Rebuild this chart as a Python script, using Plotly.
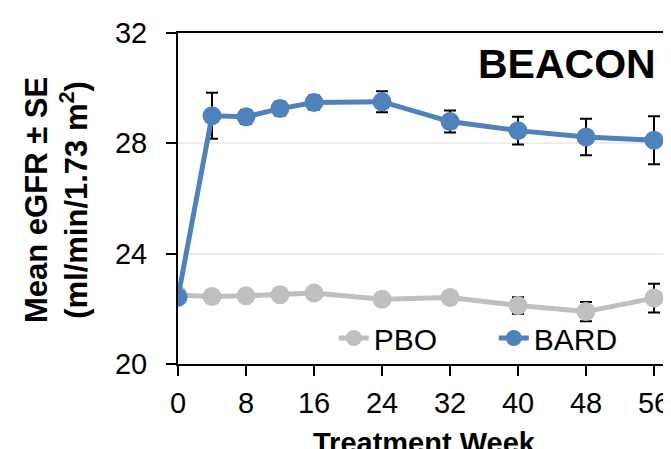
import plotly.graph_objects as go

weeks = [0, 4, 8, 12, 16, 24, 32, 40, 48, 56]
x_ticks = [0, 8, 16, 24, 32, 40, 48, 56]
y_ticks = [20, 24, 28, 32]

pbo_mean = [22.50, 22.45, 22.47, 22.51, 22.57, 22.35, 22.41, 22.12, 21.90, 22.39]
pbo_se = [0.2, 0.2, 0.2, 0.2, 0.2, 0.2, 0.2, 0.30, 0.35, 0.52]
bard_mean = [22.42, 29.00, 28.96, 29.26, 29.48, 29.51, 28.79, 28.46, 28.23, 28.11]
bard_se = [0.2, 0.83, 0.25, 0.25, 0.25, 0.38, 0.40, 0.50, 0.66, 0.87]

FONT = "Arial, Liberation Sans, sans-serif"
GRAY = "#BFBFBF"
BLUE = "#4F81BD"

fig = go.Figure()
fig.add_trace(go.Scatter(
    x=weeks, y=pbo_mean, name="PBO", mode="lines+markers",
    line=dict(color=GRAY, width=5),
    marker=dict(color=GRAY, size=19),
    error_y=dict(type="data", array=pbo_se, color="black", thickness=2, width=6),
))
fig.add_trace(go.Scatter(
    x=weeks, y=bard_mean, name="BARD", mode="lines+markers",
    line=dict(color=BLUE, width=5),
    marker=dict(color=BLUE, size=19),
    error_y=dict(type="data", array=bard_se, color="black", thickness=2, width=6),
))

fig.update_layout(
    width=663, height=441,
    margin=dict(l=170, r=0, t=25, b=85, autoexpand=False),
    paper_bgcolor="white", plot_bgcolor="white",
    font=dict(family=FONT, color="black", size=29),
    showlegend=True,
    legend=dict(
        orientation="h", x=0.316, y=0.0785, xanchor="left", yanchor="middle",
        bgcolor="rgba(0,0,0,0)", font=dict(size=30, family=FONT),
        entrywidth=115, traceorder="normal",
    ),
    xaxis=dict(
        range=[0, 58], tickvals=x_ticks, ticktext=[str(v) for v in x_ticks],
        showline=True, linecolor="black", linewidth=2, mirror=True,
        ticks="outside", ticklen=10, tickwidth=2, tickcolor="black",
        showgrid=False, zeroline=False, automargin=False,
        tickfont=dict(size=29), ticklabelstandoff=2,
    ),
    yaxis=dict(
        range=[20, 32], tickvals=y_ticks, ticktext=[str(v) for v in y_ticks],
        showline=True, linecolor="black", linewidth=2,
        ticks="outside", ticklen=10, tickwidth=2, tickcolor="black",
        showgrid=True, gridcolor="#EEEEEE", gridwidth=2,
        zeroline=False, automargin=False,
        tickfont=dict(size=29), ticklabelstandoff=13,
    ),
    annotations=[
        dict(text="<b>BEACON</b>", xref="paper", yref="paper", x=0.9736, y=0.905,
             xanchor="right", yanchor="middle", showarrow=False,
             font=dict(size=41, family=FONT)),
        dict(text="<b>Mean eGFR ± SE</b><br><b>(ml/min/1.73 m<sup>2</sup>)</b>",
             xref="paper", yref="paper", x=-0.2454, y=0.4955,
             xanchor="center", yanchor="middle", textangle=-90, showarrow=False,
             font=dict(size=31, family=FONT)),
        dict(text="<b>Treatment Week</b>", xref="paper", yref="paper", x=0.5, y=-0.184,
             xanchor="center", yanchor="top", showarrow=False,
             font=dict(size=29, family=FONT)),
    ],
)

fig.write_html("out.html")
